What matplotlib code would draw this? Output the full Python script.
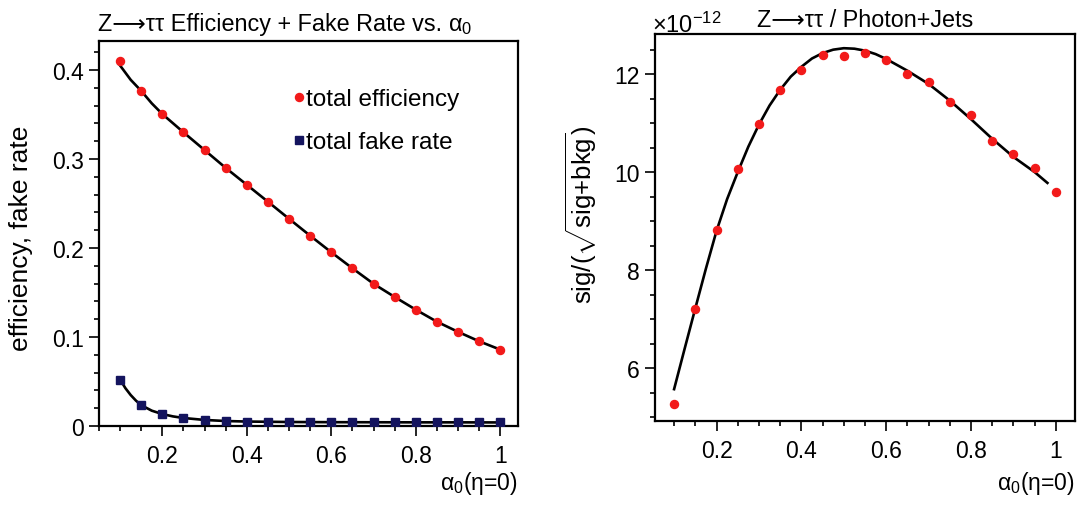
import matplotlib
matplotlib.use("Agg")
import matplotlib.pyplot as plt
from matplotlib.ticker import MultipleLocator, FuncFormatter

plt.rcParams['font.family'] = ['Liberation Sans', 'DejaVu Sans']
plt.rcParams['mathtext.fontset'] = 'custom'
plt.rcParams['mathtext.rm'] = 'Liberation Sans'
plt.rcParams['mathtext.it'] = 'Liberation Sans:italic'
plt.rcParams['mathtext.bf'] = 'Liberation Sans:bold'

# ---------------- data ----------------
alpha0 = [0.10, 0.15, 0.20, 0.25, 0.30, 0.35, 0.40, 0.45, 0.50, 0.55,
          0.60, 0.65, 0.70, 0.75, 0.80, 0.85, 0.90, 0.95, 1.00]

total_efficiency = [0.4105, 0.3768, 0.3506, 0.3300, 0.3105, 0.2900, 0.2710,
                    0.2520, 0.2326, 0.2138, 0.1950, 0.1770, 0.1596, 0.1450,
                    0.1307, 0.1170, 0.1060, 0.0951, 0.0854]

total_fake_rate = [0.0522, 0.0234, 0.0134, 0.0090, 0.0068, 0.0056, 0.0050,
                   0.0047, 0.0045, 0.0044, 0.0043, 0.0043, 0.0042, 0.0042,
                   0.0041, 0.0041, 0.0041, 0.0040, 0.0040]

# fitted curves
eff_fit_x = [0.10, 0.125, 0.15, 0.175, 0.20, 0.25, 0.30, 0.35, 0.40, 0.45, 0.50,
             0.55, 0.60, 0.65, 0.70, 0.75, 0.80, 0.85, 0.90, 0.95, 1.00]
eff_fit_y = [0.4050, 0.3890, 0.3765, 0.3625, 0.3505, 0.3300, 0.3100, 0.2900,
             0.2710, 0.2520, 0.2328, 0.2138, 0.1952, 0.1772, 0.1598, 0.1450,
             0.1307, 0.1172, 0.1058, 0.0952, 0.0858]

fake_fit_x = [0.10, 0.1125, 0.125, 0.1375, 0.15, 0.175, 0.20, 0.225, 0.25,
              0.30, 0.35, 0.40, 0.50, 0.60, 0.70, 0.80, 0.90, 1.00]
fake_fit_y = [0.0522, 0.0425, 0.0348, 0.0285, 0.0234, 0.0172, 0.0134, 0.0108,
              0.0090, 0.0068, 0.0056, 0.0050, 0.0045, 0.0043, 0.0042, 0.0041,
              0.0041, 0.0040]

# significance, in units of 1e-12
significance = [5.27, 7.20, 8.82, 10.06, 10.99, 11.68, 12.08, 12.39, 12.37,
                12.44, 12.29, 12.01, 11.83, 11.43, 11.17, 10.64, 10.38, 10.08,
                9.59]
sig_fit_x = [0.10, 0.125, 0.15, 0.175, 0.20, 0.225, 0.25, 0.275, 0.30, 0.325,
             0.35, 0.375, 0.40, 0.425, 0.45, 0.475, 0.50, 0.525, 0.55, 0.575,
             0.60, 0.65, 0.70, 0.75, 0.80, 0.85, 0.90, 0.95, 0.98]
sig_fit_y = [5.57, 6.40, 7.22, 8.03, 8.80, 9.45, 10.00, 10.52, 10.97, 11.36,
             11.68, 11.95, 12.15, 12.32, 12.43, 12.50, 12.53, 12.52, 12.48,
             12.41, 12.31, 12.07, 11.80, 11.46, 11.08, 10.68, 10.31, 10.00,
             9.78]

# ---------------- figure ----------------
W, H = 1081, 506
fig = plt.figure(figsize=(W / 100, H / 100), dpi=100)
fig.patch.set_facecolor('white')

def px_axes(x0, y0, x1, y1):
    return fig.add_axes([x0 / W, 1 - y1 / H, (x1 - x0) / W, (y1 - y0) / H])

axL = px_axes(99, 42, 518, 427)
axR = px_axes(655, 35, 1075, 422)

red = '#f21a1a'
navy = '#14145e'
tick_fs = 16.5
fmt = FuncFormatter(lambda v, p: '%g' % round(v, 6))

for ax in (axL, axR):
    for side in ('top', 'right', 'left', 'bottom'):
        ax.spines[side].set_linewidth(1.6)
    ax.tick_params(which='both', direction='out', top=False, right=False,
                   labelsize=tick_fs, width=1.2)
    ax.tick_params(which='major', length=7, pad=4)
    ax.tick_params(which='minor', length=3.5)
    ax.tick_params(axis='x', which='major', pad=6)
    ax.xaxis.set_major_locator(MultipleLocator(0.2))
    ax.xaxis.set_minor_locator(MultipleLocator(0.05))
    ax.xaxis.set_major_formatter(fmt)
    ax.yaxis.set_major_formatter(fmt)

# left panel
axL.plot(eff_fit_x, eff_fit_y, color='black', lw=1.9, zorder=2,
         solid_joinstyle='round')
axL.plot(fake_fit_x, fake_fit_y, color='black', lw=1.9, zorder=2,
         solid_joinstyle='round')
axL.plot(alpha0, total_efficiency, 'o', color=red, ms=5.8, mec=red,
         zorder=3, label='total efficiency')
axL.plot(alpha0, total_fake_rate, 's', color=navy, ms=5.4, mec=navy,
         zorder=3, label='total fake rate')
axL.set_xlim(0.05, 1.042)
axL.set_ylim(0, 0.4326)
axL.yaxis.set_major_locator(MultipleLocator(0.1))
axL.yaxis.set_minor_locator(MultipleLocator(0.02))
leg = axL.legend(loc='upper left', bbox_to_anchor=(0.465, 0.877), frameon=False,
                 fontsize=17.5, handlelength=0.4, handletextpad=0.12,
                 labelspacing=0.85, borderpad=0, borderaxespad=0)

# right panel
axR.plot(sig_fit_x, sig_fit_y, color='black', lw=1.9, zorder=2,
         solid_joinstyle='round')
axR.plot(alpha0, significance, 'o', color=red, ms=5.8, mec=red, zorder=3)
axR.set_xlim(0.055, 1.045)
axR.set_ylim(4.92, 12.82)
axR.yaxis.set_major_locator(MultipleLocator(2))
axR.yaxis.set_minor_locator(MultipleLocator(0.5))

# texts
def ftext(x, y, s, **kw):
    return fig.text(x / W, 1 - y / H, s, **kw)

t1 = ftext(98, 31, 'Z⟶ττ Efficiency + Fake Rate vs.',
           fontsize=16.8, ha='left', va='baseline')
fig.add_artist(matplotlib.text.Annotation(
    r'$\mathregular{\alpha_0}$', xy=(1, 0), xycoords=t1,
    xytext=(4, -1), textcoords='offset points',
    fontsize=16.8, ha='left', va='bottom'))
ftext(865, 27, 'Z⟶ττ / Photon+Jets',
      fontsize=16.8, ha='center', va='baseline')
ftext(652, 33, r'$\mathregular{\times10^{-12}}$', fontsize=17, ha='left',
      va='baseline')
ftext(518, 490, r'$\mathregular{\alpha_0}$(η=0)', fontsize=16.5,
      ha='right', va='baseline')
ftext(1075, 490, r'$\mathregular{\alpha_0}$(η=0)', fontsize=16.5,
      ha='right', va='baseline')
ftext(21, 238, 'efficiency, fake rate', fontsize=19, rotation=90,
      ha='center', va='center')
ftext(581, 215, r'sig/($\mathregular{\sqrt{sig{+}bkg}}$)', fontsize=18.5,
      rotation=90, ha='center', va='center')

fig.savefig('out.png', dpi=100, facecolor='white')
